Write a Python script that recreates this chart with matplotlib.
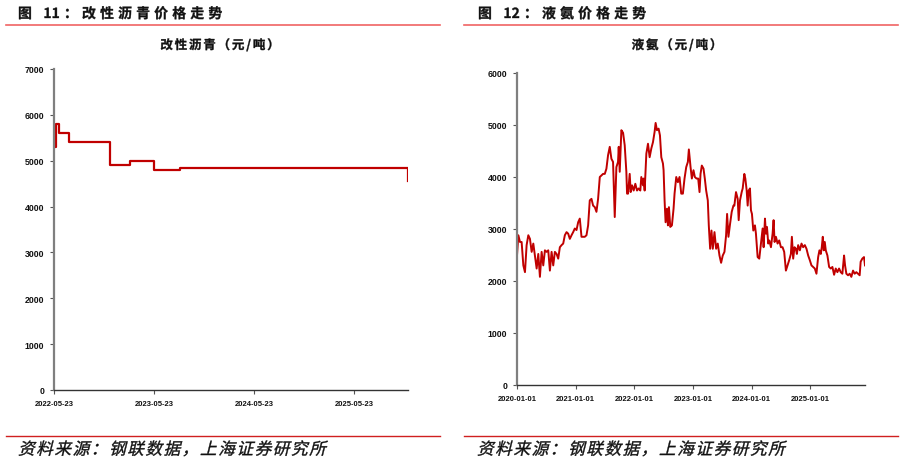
import re
import numpy as np
import pandas as pd
import matplotlib
matplotlib.use("Agg")
import matplotlib.pyplot as plt
import matplotlib.dates as mdates
from matplotlib.lines import Line2D
from matplotlib.textpath import TextPath, text_to_path
from matplotlib.patches import PathPatch
from matplotlib.font_manager import FontProperties
from matplotlib.transforms import Affine2D

plt.rcParams['font.family'] = ['Noto Sans CJK SC', 'DejaVu Sans']

# 改性沥青: step change dates and prices
asphalt_dates = ['2022-05-23', '2022-05-30', '2022-06-12', '2022-07-17', '2022-12-15',
                 '2023-02-23', '2023-05-23', '2023-08-27', '2025-12-04', '2025-12-05']
asphalt_price = [5300, 5800, 5600, 5400, 4900, 5000, 4800, 4850, 4550, 4550]
asphalt_ticks = ['2022-05-23', '2023-05-23', '2024-05-23', '2025-05-23']

# 液氨: time in years after 2020-01-01, price
amm_years = [
    0.000, 0.023, 0.051, 0.079, 0.108, 0.136, 0.164, 0.193, 0.221, 0.250,
    0.278, 0.306, 0.335, 0.363, 0.391, 0.420, 0.448, 0.476, 0.505, 0.533,
    0.561, 0.590, 0.618, 0.646, 0.675, 0.703, 0.731, 0.760, 0.788, 0.816,
    0.845, 0.873, 0.901, 0.930, 0.958, 0.986, 1.015, 1.043, 1.071, 1.100,
    1.128, 1.156, 1.185, 1.213, 1.241, 1.270, 1.298, 1.327, 1.355, 1.383,
    1.412, 1.440, 1.468, 1.497, 1.525, 1.553, 1.582, 1.610, 1.638, 1.667,
    1.695, 1.723, 1.735, 1.752, 1.780, 1.809, 1.837, 1.865, 1.877, 1.894,
    1.922, 1.939, 1.962, 1.990, 2.018, 2.047, 2.075, 2.103, 2.120, 2.149,
    2.160, 2.177, 2.206, 2.234, 2.262, 2.291, 2.319, 2.347, 2.364, 2.387,
    2.415, 2.438, 2.461, 2.489, 2.500, 2.517, 2.534, 2.557, 2.574, 2.591,
    2.614, 2.642, 2.670, 2.687, 2.716, 2.744, 2.772, 2.801, 2.829, 2.857,
    2.886, 2.914, 2.931, 2.960, 2.982, 3.010, 3.033, 3.062, 3.090, 3.113,
    3.130, 3.152, 3.181, 3.203, 3.226, 3.254, 3.271, 3.294, 3.317, 3.339,
    3.368, 3.396, 3.424, 3.453, 3.481, 3.509, 3.538, 3.566, 3.583, 3.606,
    3.634, 3.662, 3.691, 3.707, 3.735, 3.764, 3.781, 3.803, 3.832, 3.849,
    3.877, 3.894, 3.917, 3.934, 3.951, 3.973, 3.990, 4.007, 4.030, 4.058,
    4.075, 4.104, 4.132, 4.161, 4.189, 4.206, 4.229, 4.246, 4.263, 4.285,
    4.302, 4.331, 4.359, 4.376, 4.393, 4.416, 4.444, 4.472, 4.501, 4.529,
    4.557, 4.586, 4.614, 4.642, 4.671, 4.688, 4.710, 4.733, 4.756, 4.773,
    4.795, 4.824, 4.852, 4.880, 4.909, 4.937, 4.966, 4.994, 5.022, 5.051,
    5.079, 5.107, 5.136, 5.158, 5.181, 5.198, 5.215, 5.232, 5.249, 5.266,
    5.294, 5.323, 5.351, 5.379, 5.408, 5.436, 5.464, 5.493, 5.521, 5.549,
    5.578, 5.595, 5.617, 5.646, 5.674, 5.702, 5.731, 5.759, 5.787, 5.816,
    5.844, 5.861, 5.889, 5.918, 5.935]
amm_price = [
    2490, 2880, 2750, 2750, 2300, 2170, 2690, 2880, 2810, 2560,
    2720, 2490, 2240, 2520, 2080, 2560, 2300, 2590, 2560, 2590,
    2200, 2560, 2300, 2560, 2520, 2430, 2650, 2690, 2720, 2880,
    2940, 2910, 2810, 2880, 2940, 3010, 2980, 3130, 3200, 2850,
    2850, 2850, 2880, 3070, 3550, 3580, 3450, 3420, 3330, 3580,
    4000, 4030, 4060, 4060, 4160, 4420, 4580, 4350, 4290, 3230,
    4190, 4290, 4580, 4100, 4900, 4850, 4610, 4100, 3680, 3680,
    4060, 3710, 3840, 3740, 3870, 3740, 3780, 3740, 4000, 3840,
    3970, 3740, 4450, 4640, 4380, 4550, 4670, 4870, 5040, 4900,
    4930, 4800, 4380, 4260, 4130, 3550, 3130, 3390, 3070, 3420,
    3040, 3070, 3390, 3680, 4000, 3900, 4000, 3680, 3680, 3970,
    4190, 4290, 4530, 4190, 3970, 4130, 4000, 3970, 3970, 3710,
    4060, 4220, 4160, 3970, 3740, 3550, 3070, 2620, 2970, 2620,
    2940, 2620, 2720, 2490, 2350, 2490, 2560, 2880, 3290, 2850,
    3100, 3330, 3450, 3450, 3710, 3580, 3170, 3550, 3710, 3780,
    4060, 3970, 3740, 3450, 3740, 3780, 3360, 3290, 2970, 3070,
    2910, 2460, 2430, 2720, 3010, 2650, 3200, 2910, 3040, 2720,
    2780, 2650, 2910, 3170, 2750, 2850, 2720, 2780, 2650, 2650,
    2560, 2200, 2300, 2400, 2520, 2850, 2430, 2650, 2620, 2520,
    2690, 2590, 2720, 2650, 2690, 2620, 2490, 2400, 2300, 2270,
    2240, 2140, 2460, 2590, 2520, 2650, 2850, 2590, 2750, 2590,
    2490, 2270, 2240, 2270, 2120, 2240, 2170, 2240, 2170, 2140,
    2490, 2300, 2140, 2110, 2140, 2080, 2200, 2140, 2170, 2140,
    2110, 2370, 2430, 2460, 2300]
amm_ticks = ['2020-01-01', '2021-01-01', '2022-01-01', '2023-01-01', '2024-01-01', '2025-01-01']

LINE_RED = '#C00000'
RULE_RED = '#F06464'

fig = plt.figure(figsize=(9.04, 4.64), dpi=100)
W, H = 904, 464


def fx(px):
    return px / W


def fy(py):
    return 1 - py / H


def style_axes(ax):
    ax.spines['top'].set_visible(False)
    ax.spines['right'].set_visible(False)
    ax.spines['left'].set_color('#7f7f7f')
    ax.spines['left'].set_linewidth(1.6)
    ax.spines['bottom'].set_color('#333333')
    ax.spines['bottom'].set_linewidth(1.0)
    ax.tick_params(axis='both', direction='out', length=3, width=0.8, color='#555555')
    ax.tick_params(axis='y', pad=4)
    ax.tick_params(axis='x', pad=4)
    for lab in ax.get_xticklabels():
        lab.set_fontfamily('Liberation Sans')
        lab.set_fontweight('bold')
        lab.set_fontsize(5.5)
        lab.set_color('#111111')
    for lab in ax.get_yticklabels():
        lab.set_fontfamily('Liberation Sans')
        lab.set_fontweight('bold')
        lab.set_fontsize(6.3)
        lab.set_color('#111111')


def path_text(x_px, y_px, s, size, weight='regular', skew=0, track=0.0, ha='left'):
    # text as paths so letter spacing and slant can be set; y_px is the baseline
    fp = FontProperties(family='Noto Sans CJK SC', weight=weight, size=size)
    pieces = []
    xoff = 0.0
    for tok in re.findall(r'[0-9A-Za-z/]+|.', s):
        w, _, _ = text_to_path.get_text_width_height_descent(tok, fp, ismath=False)
        pieces.append((xoff, tok))
        xoff += w + track
    total = xoff - track
    if ha == 'center':
        x0 = x_px - total * 100 / 72.0 / 2
    else:
        x0 = x_px
    for off, tok in pieces:
        if tok == ' ':
            continue
        tp = TextPath((off, 0), tok, size=size, prop=fp)
        tr = (Affine2D().skew_deg(skew, 0).scale(1 / 72.0)
              .translate(x0 / 100.0, (H - y_px) / 100.0) + fig.dpi_scale_trans)
        fig.patches.append(PathPatch(tp, transform=tr, facecolor='#111111',
                                     edgecolor='#111111', lw=0.25))


# left chart
ax1 = fig.add_axes([fx(54), fy(391), fx(408 - 54), (391 - 70) / H])
d1 = pd.to_datetime(asphalt_dates)
ax1.plot(d1, asphalt_price, drawstyle='steps-post', color=LINE_RED, lw=1.6)
ax1.set_ylim(0, 7000)
ax1.set_yticks(range(0, 7001, 1000))
ax1.set_xlim(d1[0], d1[-1])
ax1.set_xticks(pd.to_datetime(asphalt_ticks))
ax1.xaxis.set_major_formatter(mdates.DateFormatter('%Y-%m-%d'))
style_axes(ax1)

# right chart
ax2 = fig.add_axes([fx(517), fy(386), fx(865 - 517), (386 - 74) / H])
d2 = pd.Timestamp('2020-01-01') + pd.to_timedelta(np.array(amm_years) * 365.25, unit='D')
ax2.plot(d2, amm_price, color=LINE_RED, lw=1.4)
ax2.set_ylim(0, 6000)
ax2.set_yticks(range(0, 6001, 1000))
ax2.set_xlim(d2[0], d2[-1])
ax2.set_xticks(pd.to_datetime(amm_ticks))
ax2.xaxis.set_major_formatter(mdates.DateFormatter('%Y-%m-%d'))
style_axes(ax2)

# headers, rules, titles, sources
path_text(18, 19, '图 11：改性沥青价格走势', 10, weight='bold', track=3.0)
path_text(478, 19, '图 12：液氨价格走势', 10, weight='bold', track=3.0)
for x0, x1 in [(6, 440), (464, 898)]:
    fig.add_artist(Line2D([fx(x0), fx(x1)], [fy(25.5), fy(25.5)], color=RULE_RED, lw=1.2))
    fig.add_artist(Line2D([fx(x0), fx(x1)], [fy(437.3), fy(437.3)], color='#D02020', lw=1.0))

path_text(220, 50, '改性沥青（元/吨）', 9, weight='bold', track=1.3, ha='center')
path_text(677, 50, '液氨（元/吨）', 9, weight='bold', track=1.3, ha='center')

path_text(18, 455.5, '资料来源：钢联数据，上海证券研究所', 12, skew=14, track=1.1)
path_text(477, 455.5, '资料来源：钢联数据，上海证券研究所', 12, skew=14, track=1.1)

fig.savefig('out.png', dpi=100)
